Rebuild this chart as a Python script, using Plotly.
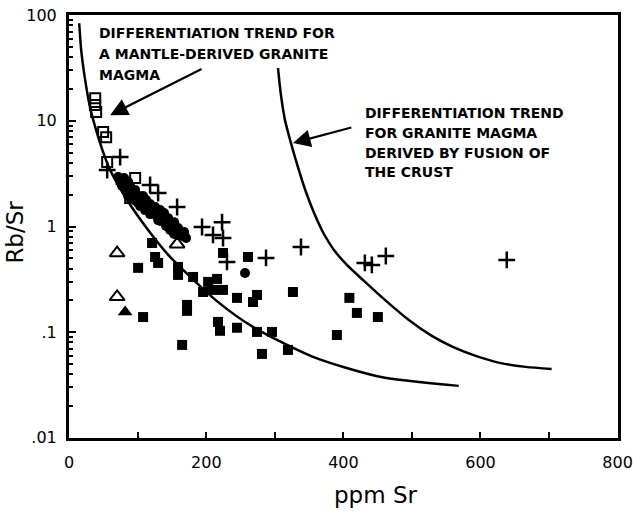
import plotly.graph_objects as go

# Differentiation trend curves (ppm Sr, Rb/Sr)
mantle_curve_sr = [14.6, 17.5, 23.3, 30.6, 39.3, 49.5, 59.7, 84.5, 115.1, 147.2, 214.2,
                   268.1, 355.6, 453.2, 568.3]
mantle_curve_ratio = [84.0, 46.7, 24.3, 13.2, 8.18, 5.06, 3.42, 1.78, 0.927, 0.515, 0.200,
                      0.112, 0.0583, 0.0378, 0.031]

crust_curve_sr = [304.6, 308.9, 314.8, 323.5, 333.7, 345.4, 358.5, 371.6, 386.2, 405.1,
                  428.4, 460.5, 496.9, 529.0, 559.6, 593.1, 628.1, 665.9, 703.8]
crust_curve_ratio = [31.6, 17.5, 10.16, 6.16, 3.65, 2.12, 1.284, 0.849, 0.600, 0.433,
                     0.312, 0.202, 0.128, 0.0921, 0.0725, 0.0596, 0.0512, 0.0469, 0.0449]

# Sample groups
open_sq_sr = [37.9, 37.9, 39.3, 49.5, 53.9, 55.4, 96.2, 88.9]
open_sq_ratio = [16.4, 14.1, 12.1, 7.83, 7.0, 4.07, 2.88, 1.86]

cross_sr = [74.3, 55.4, 118.0, 129.7, 157.4, 193.8, 223.0, 209.8, 224.4, 338.1,
            287.1, 230.2, 431.3, 441.5, 461.9, 638.3]
cross_ratio = [4.54, 3.42, 2.47, 2.07, 1.53, 0.989, 1.10, 0.832, 0.778, 0.640,
               0.504, 0.462, 0.452, 0.433, 0.526, 0.483]

filled_sq_sr = [120.9, 125.3, 129.7, 100.5, 158.8, 158.8, 180.7, 202.6, 215.7, 195.3,
                209.8, 224.4, 244.8, 274.0, 268.1, 326.4, 171.9, 171.9, 107.8, 217.1,
                220.0, 244.8, 274.0, 295.8, 319.1, 164.7, 281.2, 224.4, 260.8, 408.7,
                419.7, 450.3, 390.5, 75.0, 83.0]
filled_sq_ratio = [0.698, 0.515, 0.452, 0.406, 0.414, 0.348, 0.333, 0.299, 0.319, 0.240,
                   0.251, 0.251, 0.211, 0.225, 0.193, 0.240, 0.181, 0.159, 0.139, 0.125,
                   0.103, 0.110, 0.1005, 0.1005, 0.0679, 0.0757, 0.0622, 0.561, 0.515, 0.211,
                   0.152, 0.139, 0.094, 2.75, 2.55]

circle_sr = [71.4, 80.1, 86.0, 77.2, 83.1, 91.8, 99.1, 94.7, 104.9, 110.7, 103.5, 115.1,
             120.9, 126.8, 118.0, 129.7, 135.5, 139.9, 132.6, 144.3, 150.1, 147.2, 154.5,
             158.8, 164.7, 170.5, 256.5,
             88.9, 96.2, 86.0, 107.8, 112.2, 100.5, 118.0, 125.3, 110.7, 132.6, 123.9,
             138.4, 144.3, 129.7, 153.0, 141.3, 158.8, 153.0, 167.6]
circle_ratio = [2.94, 2.88, 2.64, 2.42, 2.21, 2.12, 1.99, 1.78, 1.82, 1.67, 1.56, 1.53,
                1.46, 1.40, 1.31, 1.257, 1.285, 1.178, 1.127, 1.079, 1.011, 0.927, 0.906,
                0.832, 0.813, 0.778, 0.363,
                2.42, 2.21, 1.94, 1.94, 1.78, 1.67, 1.63, 1.53, 1.43, 1.43, 1.31,
                1.34, 1.20, 1.15, 1.10, 1.011, 0.968, 0.849, 0.887]

open_tri_sr = [69.9, 69.9, 157.4]
open_tri_ratio = [0.561, 0.216, 0.68]

solid_tri_sr = [81.6]
solid_tri_ratio = [0.155]

x_ticks = [0, 200, 400, 600, 800]
y_ticks = [0.01, 0.1, 1, 10, 100]
y_tick_text = [".01", ".1", "1", "10", "100"]

mantle_label = ["DIFFERENTIATION TREND FOR", "A MANTLE-DERIVED GRANITE", "MAGMA"]
crust_label = ["DIFFERENTIATION TREND", "FOR GRANITE MAGMA", "DERIVED BY FUSION OF", "THE CRUST"]

INK = "black"
fig = go.Figure()

for xs, ys in [(mantle_curve_sr, mantle_curve_ratio), (crust_curve_sr, crust_curve_ratio)]:
    fig.add_trace(go.Scatter(x=xs, y=ys, mode="lines",
                             line=dict(color=INK, width=2.5, shape="spline", smoothing=0.7),
                             hoverinfo="skip"))

fig.add_trace(go.Scatter(x=filled_sq_sr, y=filled_sq_ratio, mode="markers",
                         marker=dict(symbol="square", size=10, color=INK)))
fig.add_trace(go.Scatter(x=circle_sr, y=circle_ratio, mode="markers",
                         marker=dict(symbol="circle", size=10, color=INK)))
fig.add_trace(go.Scatter(x=open_sq_sr, y=open_sq_ratio, mode="markers",
                         marker=dict(symbol="square-open", size=10, color=INK,
                                     line=dict(width=2, color=INK))))
fig.add_trace(go.Scatter(x=cross_sr, y=cross_ratio, mode="markers",
                         marker=dict(symbol="cross-thin", size=12, color=INK,
                                     line=dict(width=2.5, color=INK))))
fig.add_trace(go.Scatter(x=open_tri_sr, y=open_tri_ratio, mode="markers",
                         marker=dict(symbol="triangle-up-open", size=13, color=INK,
                                     line=dict(width=2, color=INK))))
fig.add_trace(go.Scatter(x=solid_tri_sr, y=solid_tri_ratio, mode="markers",
                         marker=dict(symbol="triangle-up", size=13, color=INK)))

label_font = dict(family="DejaVu Sans", size=14, color=INK)
annotations = []
for text, logy in zip(mantle_label, [1.830, 1.631, 1.433]):
    annotations.append(dict(x=40.8, y=logy, xref="x", yref="y", text="<b>" + text + "</b>",
                            showarrow=False, xanchor="left", yanchor="middle", font=label_font))
for text, logy in zip(crust_label, [1.073, 0.884, 0.695, 0.515]):
    annotations.append(dict(x=428.4, y=logy, xref="x", yref="y", text="<b>" + text + "</b>",
                            showarrow=False, xanchor="left", yanchor="middle", font=label_font))

# Pointer arrows from each label to its curve (y in log10 units)
annotations.append(dict(x=59.7, y=1.054, ax=195.3, ay=1.499, xref="x", yref="y",
                        axref="x", ayref="y", text="", showarrow=True,
                        arrowhead=2, arrowsize=1.6, arrowwidth=2.2, arrowcolor=INK))
annotations.append(dict(x=326.4, y=0.790, ax=413.8, ay=0.941, xref="x", yref="y",
                        axref="x", ayref="y", text="", showarrow=True,
                        arrowhead=2, arrowsize=1.6, arrowwidth=2.2, arrowcolor=INK))

# Axis titles
annotations.append(dict(x=0.559, y=-0.135, xref="paper", yref="paper", text="ppm Sr",
                        showarrow=False, xanchor="center", yanchor="middle",
                        font=dict(family="DejaVu Sans", size=23, color=INK)))
annotations.append(dict(x=-0.098, y=0.486, xref="paper", yref="paper", text="Rb/Sr",
                        showarrow=False, textangle=-90, xanchor="center", yanchor="middle",
                        font=dict(family="DejaVu Sans", size=23, color=INK)))

minor_y = [m * 10.0 ** e for e in range(-2, 2) for m in range(2, 10)]

fig.update_layout(
    width=633, height=511,
    margin=dict(l=69, r=15, t=15, b=73, autoexpand=False),
    paper_bgcolor="white", plot_bgcolor="white",
    showlegend=False,
    annotations=annotations,
    xaxis=dict(range=[-0.3, 800.6], tickvals=x_ticks, ticks="inside", ticklen=6, tickwidth=2,
               tickcolor=INK, showline=True, linewidth=3, linecolor=INK, mirror=True,
               showgrid=False, zeroline=False, ticklabelstandoff=8, automargin=False,
               tickfont=dict(family="DejaVu Sans", size=16, color=INK),
               minor=dict(dtick=100, ticks="inside", ticklen=6, tickwidth=2, tickcolor=INK)),
    yaxis=dict(type="log", range=[-2.002, 2.002], tickvals=y_ticks, ticktext=y_tick_text,
               ticks="inside", ticklen=7, tickwidth=2, tickcolor=INK,
               showline=True, linewidth=3, linecolor=INK, mirror=True,
               showgrid=False, zeroline=False, ticklabelstandoff=6, automargin=False,
               tickfont=dict(family="DejaVu Sans", size=16, color=INK),
               minor=dict(tickvals=minor_y, ticks="inside", ticklen=4, tickwidth=1.5,
                          tickcolor=INK)),
)

fig.write_html("out.html")
